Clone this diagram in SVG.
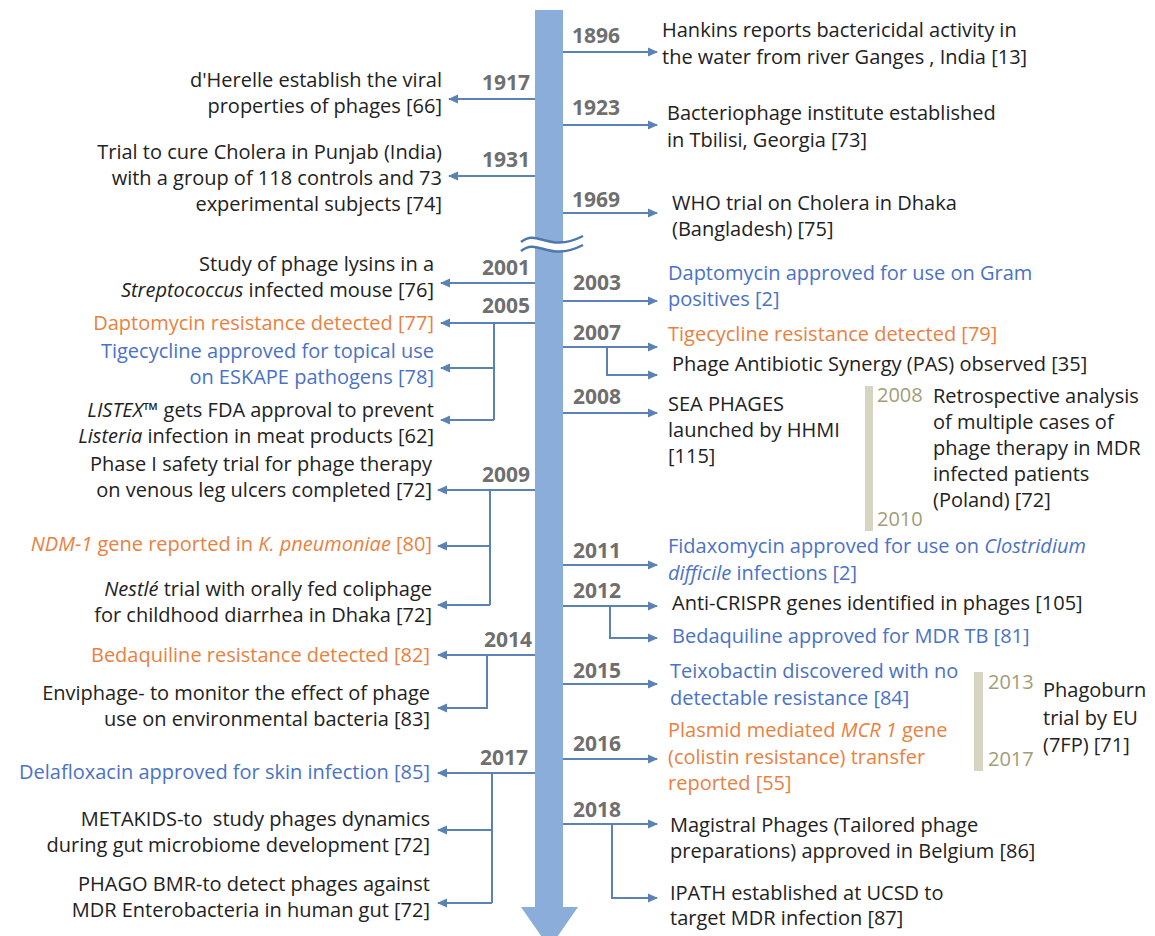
<svg xmlns="http://www.w3.org/2000/svg" width="1155" height="936" viewBox="0 0 1155 936">
<defs>
<marker id="ah" viewBox="0 0 10 10" refX="9" refY="5" markerWidth="10" markerHeight="10" markerUnits="userSpaceOnUse" orient="auto">
<path d="M0,0.5 L10,5 L0,9.5 Z" fill="#5a82b6"/>
</marker>
<style>
text{font-family:"Open Sans","Liberation Sans",sans-serif;font-size:20px;fill:#222}
.yr{font-weight:700;font-size:21px;fill:#6f6f6f}
.gy{font-size:20px;fill:#a29d77}
.L{text-anchor:end}
.o{fill:#e9813f}
.b{fill:#4a72c6}
.i{font-style:italic}
.c{fill:none;stroke:#5a82b6;stroke-width:2}
.a{marker-end:url(#ah)}
</style>
</defs>
<rect width="1155" height="936" fill="#fff"/>
<g id="axis">
<rect x="535" y="10" width="28" height="898" fill="#8aaed9"/>
<polygon points="521,907 578,907 549.5,948" fill="#8aaed9"/>
<path d="M521,242 C538,228 548,254 583,236 L583,245 C548,263 538,237 521,251 Z" fill="#fff"/>
<path d="M521,242 C538,228 548,254 583,236 M521,251 C538,237 548,263 583,245" fill="none" stroke="#4d78ad" stroke-width="2.5"/>
</g>
<g id="connectors">
<path class="c a" d="M563,52 H657"/>
<path class="c a" d="M535,99 H449"/>
<path class="c a" d="M563,125 H657"/>
<path class="c a" d="M535,176 H449"/>
<path class="c a" d="M563,213 H657"/>
<path class="c a" d="M535,283 H441"/>
<path class="c a" d="M563,301 H657"/>
<path class="c a" d="M535,323 H441"/>
<path class="c" d="M494,323 V420"/>
<path class="c a" d="M494,368 H441"/>
<path class="c a" d="M494,420 H441"/>
<path class="c a" d="M563,347 H657"/>
<path class="c a" d="M607,347 V375 H657"/>
<path class="c a" d="M563,413 H657"/>
<path class="c a" d="M535,490 H438"/>
<path class="c" d="M490,490 V605"/>
<path class="c a" d="M490,546 H438"/>
<path class="c a" d="M490,605 H438"/>
<path class="c a" d="M563,565 H657"/>
<path class="c a" d="M563,606 H657"/>
<path class="c a" d="M610,606 V638 H657"/>
<path class="c a" d="M535,655 H438"/>
<path class="c a" d="M487,655 V708 H438"/>
<path class="c a" d="M563,684 H657"/>
<path class="c a" d="M563,759 H657"/>
<path class="c a" d="M535,773 H438"/>
<path class="c" d="M492,773 V903"/>
<path class="c a" d="M492,830 H438"/>
<path class="c a" d="M492,903 H438"/>
<path class="c a" d="M563,824 H657"/>
<path class="c a" d="M612,824 V898 H657"/>
</g>
<g id="y1896"><text class="yr" x="572" y="43">1896</text>
<text x="662" y="37">Hankins reports bactericidal activity in</text>
<text x="662" y="64">the water from river Ganges , India [13]</text></g>
<g id="y1917"><text class="yr L" x="530" y="90">1917</text>
<text class="L" x="442" y="87">d'Herelle establish the viral</text>
<text class="L" x="442" y="113">properties of phages [66]</text></g>
<g id="y1923"><text class="yr" x="572" y="115">1923</text>
<text x="667" y="120">Bacteriophage institute established</text>
<text x="667" y="147">in Tbilisi, Georgia [73]</text></g>
<g id="y1931"><text class="yr L" x="530" y="167">1931</text>
<text class="L" x="442" y="159">Trial to cure Cholera in Punjab (India)</text>
<text class="L" x="442" y="185">with a group of 118 controls and 73</text>
<text class="L" x="442" y="211">experimental subjects [74]</text></g>
<g id="y1969"><text class="yr" x="572" y="207">1969</text>
<text x="672" y="210">WHO trial on Cholera in Dhaka</text>
<text x="672" y="236">(Bangladesh) [75]</text></g>
<g id="y2001"><text class="yr L" x="530" y="275">2001</text>
<text class="L" x="434" y="271">Study of phage lysins in a</text>
<text class="L" x="434" y="297"><tspan class="i">Streptococcus</tspan> infected mouse [76]</text></g>
<g id="y2003"><text class="yr" x="573" y="290">2003</text>
<text class="b" x="668" y="280">Daptomycin approved for use on Gram</text>
<text class="b" x="668" y="306">positives [2]</text></g>
<g id="y2005"><text class="yr L" x="530" y="313">2005</text>
<text class="L o" x="434" y="330">Daptomycin resistance detected [77]</text>
<text class="L b" x="434" y="358">Tigecycline approved for topical use</text>
<text class="L b" x="434" y="384">on ESKAPE pathogens [78]</text>
<text class="L" x="434" y="417"><tspan class="i">LISTEX™</tspan> gets FDA approval to prevent</text>
<text class="L" x="434" y="443"><tspan class="i">Listeria</tspan> infection in meat products [62]</text></g>
<g id="y2007"><text class="yr" x="573" y="340">2007</text>
<text class="o" x="668" y="341">Tigecycline resistance detected [79]</text>
<text x="672" y="371">Phage Antibiotic Synergy (PAS) observed [35]</text></g>
<g id="y2008"><text class="yr" x="573" y="404">2008</text>
<text x="668" y="411">SEA PHAGES</text>
<text x="668" y="437">launched by HHMI</text>
<text x="668" y="463">[115]</text></g>
<g id="retro"><rect x="865" y="386" width="8" height="145" fill="#d8d4c2"/>
<text class="gy" x="877" y="402">2008</text>
<text class="gy" x="877" y="526">2010</text>
<text x="933" y="403">Retrospective analysis</text>
<text x="933" y="429">of multiple cases of</text>
<text x="933" y="455">phage therapy in MDR</text>
<text x="933" y="481">infected patients</text>
<text x="933" y="507">(Poland) [72]</text></g>
<g id="y2009"><text class="yr L" x="530" y="482">2009</text>
<text class="L" x="432" y="471">Phase I safety trial for phage therapy</text>
<text class="L" x="432" y="497">on venous leg ulcers completed [72]</text>
<text class="L o" x="432" y="551"><tspan class="i">NDM-1</tspan> gene reported in <tspan class="i">K. pneumoniae</tspan> [80]</text>
<text class="L" x="432" y="596"><tspan class="i">Nestlé</tspan> trial with orally fed coliphage</text>
<text class="L" x="432" y="622">for childhood diarrhea in Dhaka [72]</text></g>
<g id="y2011"><text class="yr" x="573" y="558">2011</text>
<text class="b" x="668" y="553">Fidaxomycin approved for use on <tspan class="i">Clostridium</tspan></text>
<text class="b" x="668" y="580"><tspan class="i">difficile</tspan> infections [2]</text></g>
<g id="y2012"><text class="yr" x="573" y="598">2012</text>
<text x="672" y="610">Anti-CRISPR genes identified in phages [105]</text>
<text class="b" x="672" y="643">Bedaquiline approved for MDR TB [81]</text></g>
<g id="y2014"><text class="yr L" x="532" y="647">2014</text>
<text class="L o" x="430" y="662">Bedaquiline resistance detected [82]</text>
<text class="L" x="430" y="700">Enviphage- to monitor the effect of phage</text>
<text class="L" x="430" y="726">use on environmental bacteria [83]</text></g>
<g id="y2015"><text class="yr" x="573" y="678">2015</text>
<text class="b" x="670" y="678">Teixobactin discovered with no</text>
<text class="b" x="670" y="705">detectable resistance [84]</text></g>
<g id="phagoburn"><rect x="974" y="672" width="9" height="99" fill="#d8d4c2"/>
<text class="gy" x="988" y="689">2013</text>
<text class="gy" x="988" y="766">2017</text>
<text x="1043" y="697">Phagoburn</text>
<text x="1043" y="725">trial by EU</text>
<text x="1043" y="752">(7FP) [71]</text></g>
<g id="y2016"><text class="yr" x="573" y="751">2016</text>
<text class="o" x="668" y="737">Plasmid mediated <tspan class="i">MCR 1</tspan> gene</text>
<text class="o" x="668" y="764">(colistin resistance) transfer</text>
<text class="o" x="668" y="790">reported [55]</text></g>
<g id="y2017"><text class="yr L" x="528" y="765">2017</text>
<text class="L b" x="430" y="779">Delafloxacin approved for skin infection [85]</text>
<text class="L" x="430" y="826" xml:space="preserve">METAKIDS-to  study phages dynamics</text>
<text class="L" x="430" y="852">during gut microbiome development [72]</text>
<text class="L" x="430" y="891">PHAGO BMR-to detect phages against</text>
<text class="L" x="430" y="917">MDR Enterobacteria in human gut [72]</text></g>
<g id="y2018"><text class="yr" x="573" y="817">2018</text>
<text x="670" y="832">Magistral Phages (Tailored phage</text>
<text x="670" y="858">preparations) approved in Belgium [86]</text>
<text x="670" y="900">IPATH established at UCSD to</text>
<text x="670" y="925">target MDR infection [87]</text></g>
</svg>
